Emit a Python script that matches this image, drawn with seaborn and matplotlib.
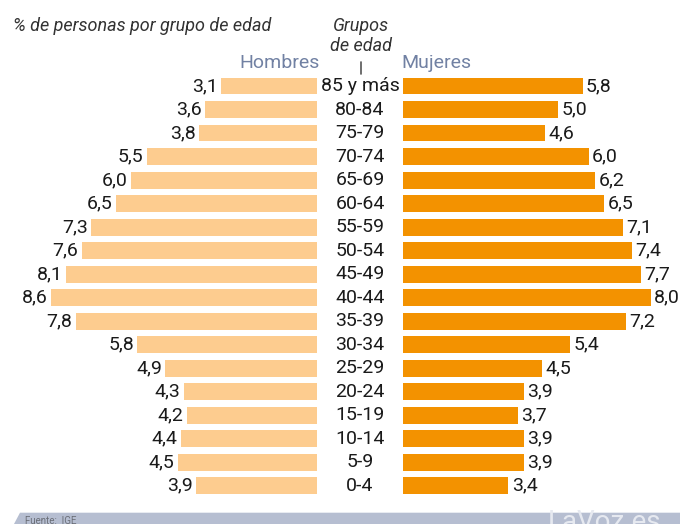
import matplotlib
matplotlib.use("Agg")
import matplotlib.pyplot as plt
import seaborn as sns
import pandas as pd
from matplotlib.patches import Polygon

grupos = ["85 y más", "80-84", "75-79", "70-74", "65-69", "60-64", "55-59", "50-54",
          "45-49", "40-44", "35-39", "30-34", "25-29", "20-24", "15-19", "10-14", "5-9", "0-4"]
hombres = [3.1, 3.6, 3.8, 5.5, 6.0, 6.5, 7.3, 7.6, 8.1, 8.6, 7.8, 5.8, 4.9, 4.3, 4.2, 4.4, 4.5, 3.9]
mujeres = [5.8, 5.0, 4.6, 6.0, 6.2, 6.5, 7.1, 7.4, 7.7, 8.0, 7.2, 5.4, 4.5, 3.9, 3.7, 3.9, 3.9, 3.4]

sns.set_theme(style="white")
FONT = ["Roboto", "DejaVu Sans"]
plt.rcParams["font.family"] = FONT

C_H = "#FDCC8F"
C_M = "#F39200"
C_LAB = "#7181A3"
C_TXT = "#1A1A1A"

W, H = 680, 524
fig = plt.figure(figsize=(W / 100, H / 100), dpi=100)
fig.patch.set_facecolor("white")

df = pd.DataFrame({"grupo": grupos, "hombres": hombres, "mujeres": mujeres})

n = len(grupos)
px = 30.9  # pixels per unit
y_first, y_last = 86.0, 485.7
step = (y_last - y_first) / (n - 1)
row_top = y_first - step / 2
row_bot = y_last + step / 2
bot = (H - row_bot) / H
hgt = (row_bot - row_top) / H

l_left, l_right = 10.0, 316.7
r_left, r_right = 403.3, 680.0
axL = fig.add_axes([l_left / W, bot, (l_right - l_left) / W, hgt])
axR = fig.add_axes([r_left / W, bot, (r_right - r_left) / W, hgt])

sns.barplot(data=df, x="hombres", y="grupo", orient="h", color=C_H, saturation=1,
            width=0.72, ax=axL, order=grupos)
sns.barplot(data=df, x="mujeres", y="grupo", orient="h", color=C_M, saturation=1,
            width=0.72, ax=axR, order=grupos)

axL.set_xlim((l_right - l_left) / px, 0)
axR.set_xlim(0, (r_right - r_left) / px)
for ax in (axL, axR):
    ax.set_ylim(n - 0.5, -0.5)
    ax.axis("off")
    for p in ax.patches:
        p.set_edgecolor("none")

fs = 14
for i, v in enumerate(hombres):
    axL.annotate(f"{v:.1f}".replace(".", ","), (v, i), xytext=(-2.5, 0), textcoords="offset points",
                 ha="right", va="center", fontsize=fs, color=C_TXT)
for i, v in enumerate(mujeres):
    axR.annotate(f"{v:.1f}".replace(".", ","), (v, i), xytext=(2.5, 0), textcoords="offset points",
                 ha="left", va="center", fontsize=fs, color=C_TXT)

# category labels in the middle
cx = 360 / W
for i, g in enumerate(grupos):
    yc = y_first + i * step
    fig.text(cx, (H - yc) / H, g, ha="center", va="center", fontsize=fs, color=C_TXT)

# headers
fig.text(13 / W, (H - 26) / H, "% de personas por grupo de edad", ha="left", va="center",
         fontsize=13, style="italic", color="#333333")
fig.text(361 / W, (H - 26) / H, "Grupos", ha="center", va="center",
         fontsize=13, style="italic", color="#333333")
fig.text(361 / W, (H - 46) / H, "de edad", ha="center", va="center",
         fontsize=13, style="italic", color="#333333")
fig.add_artist(plt.Line2D([361 / W, 361 / W], [(H - 62) / H, (H - 74) / H],
                          color="#555555", lw=1.2))
fig.text(320 / W, (H - 63) / H, "Hombres", ha="right", va="center", fontsize=14, color=C_LAB)
fig.text(401 / W, (H - 63) / H, "Mujeres", ha="left", va="center", fontsize=14, color=C_LAB)

# footer band
band = Polygon([(14 / W, 0), (20 / W, (H - 512.7) / H), (1, (H - 512.7) / H), (1, 0)],
               closed=True, transform=fig.transFigure, facecolor="#B6BED1", edgecolor="none")
fig.add_artist(band)
fig.text(25 / W, (H - 520.5) / H, "Fuente:  IGE", ha="left", va="center", fontsize=7,
         color="#6B6F78")
fig.text(548 / W, (H - 530) / H, "LaVoz.es", ha="left", va="baseline", fontsize=20,
         color="#E6E9F0")

fig.savefig("out.png", dpi=100)
